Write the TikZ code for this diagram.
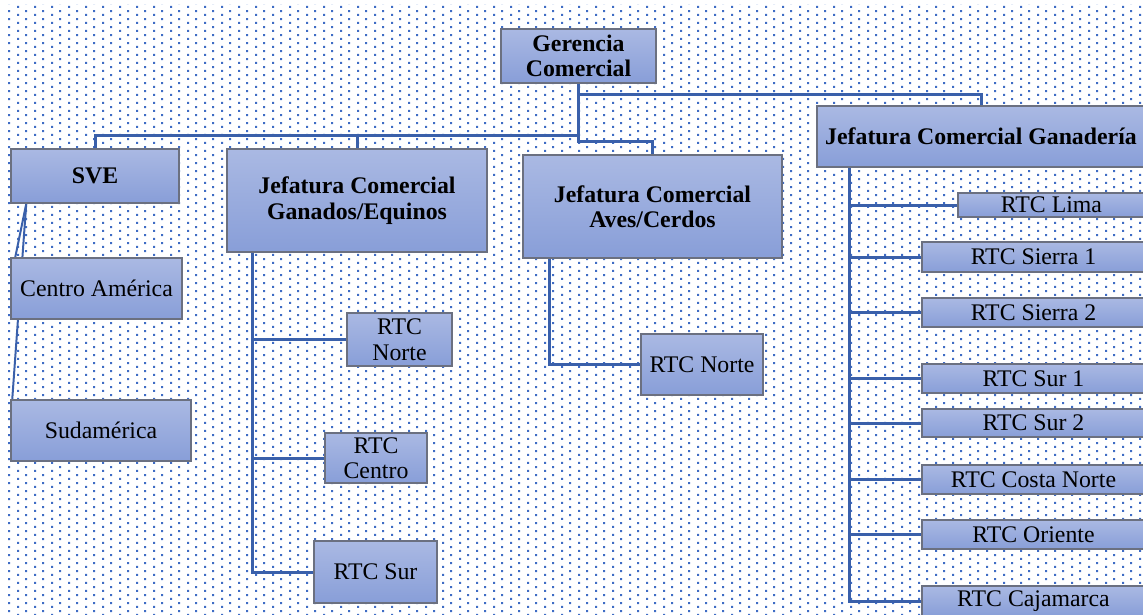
\documentclass[tikz,border=0pt]{standalone}
\usepackage{fontspec}
\setmainfont{Liberation Serif}
\usetikzlibrary{calc,patterns,backgrounds}
\definecolor{OrgLine}{HTML}{3A60AA}
\definecolor{OrgEdge}{HTML}{6B7080}
\definecolor{OrgTop}{HTML}{AAB9E3}
\definecolor{OrgBottom}{HTML}{889ED8}
\definecolor{OrgDot}{HTML}{3F6CC4}
\pgfdeclarepatternformonly{orgdots}{\pgfqpoint{0pt}{0pt}}{\pgfqpoint{17pt}{8.33pt}}{\pgfqpoint{17pt}{8.33pt}}{%
  \pgfpathrectangle{\pgfqpoint{0pt}{0pt}}{\pgfqpoint{2.2pt}{2.2pt}}%
  \pgfpathrectangle{\pgfqpoint{8.5pt}{4.17pt}}{\pgfqpoint{2.2pt}{2.2pt}}%
  \pgfusepath{fill}}

\begin{document}
\begin{tikzpicture}[
    x=1pt,
    y=-1pt,
    box/.style={
      draw=OrgEdge,
      line width=1.5pt,
      top color=OrgTop,
      bottom color=OrgBottom,
      inner sep=0pt,
      align=center,
      font=\fontsize{23.8}{25.5}\selectfont
    },
    head/.style={
      box,
      font=\fontsize{23.8}{25.5}\selectfont\bfseries
    },
    link/.style={
      draw=OrgLine,
      line width=3pt
    }
  ]
  \useasboundingbox (0,0) rectangle (1143,615);

  % Gerencia
  \node[head, minimum width=155pt, minimum height=54pt] (gerencia) at (578.5,56)
    {Gerencia\\Comercial};

  % SVE
  \node[head, minimum width=168pt, minimum height=54pt] (sve) at (95,176) {SVE};
  \node[box, minimum width=171pt, minimum height=61pt] (centro) at (96.5,288.5)
    {Centro América};
  \node[box, minimum width=180pt, minimum height=61pt] (sudam) at (101,430.5)
    {Sudamérica};

  % Ganados/Equinos
  \node[head, minimum width=260pt, minimum height=103pt] (ganados) at (357,200.5)
    {Jefatura Comercial\\Ganados/Equinos};
  \node[box, minimum width=105pt, minimum height=53pt] (gnorte) at (399.5,339.5)
    {RTC\\Norte};
  \node[box, minimum width=102pt, minimum height=50pt] (gcentro) at (376,458)
    {RTC\\Centro};
  \node[box, minimum width=123pt, minimum height=62pt] (gsur) at (375.5,572)
    {RTC Sur};

  % Aves/Cerdos
  \node[head, minimum width=259pt, minimum height=103pt] (aves) at (652.5,206.5)
    {Jefatura Comercial\\Aves/Cerdos};
  \node[box, minimum width=122pt, minimum height=61pt] (anorte) at (702,364.5)
    {RTC Norte};

  % Ganaderia
  \node[head, minimum width=328pt, minimum height=61pt] (ganaderia) at (981,136.5)
    {Jefatura Comercial Ganadería};
  \node[box, minimum width=187pt, minimum height=24pt] (lima) at (1051.5,205)
    {RTC Lima};
  \node[box, minimum width=223pt, minimum height=30pt] (sierra1) at (1033.5,257)
    {RTC Sierra 1};
  \node[box, minimum width=223pt, minimum height=29pt] (sierra2) at (1033.5,312.5)
    {RTC Sierra 2};
  \node[box, minimum width=223pt, minimum height=29pt] (sur1) at (1033.5,378.5)
    {RTC Sur 1};
  \node[box, minimum width=223pt, minimum height=28pt] (sur2) at (1033.5,423)
    {RTC Sur 2};
  \node[box, minimum width=223pt, minimum height=29pt] (costa) at (1033.5,479.5)
    {RTC Costa Norte};
  \node[box, minimum width=223pt, minimum height=29pt] (oriente) at (1033.5,534.5)
    {RTC Oriente};
  \node[box, minimum width=223pt, minimum height=30pt] (cajamarca) at (1033.5,601)
    {RTC Cajamarca};

  \begin{scope}[on background layer]
    % Dotted page
    \fill[pattern=orgdots, pattern color=OrgDot] (8,5) rectangle (1143,615);

    % Top level
    \coordinate (bus) at ($(gerencia.south)+(0,52)$);
    \draw[link] (gerencia.south) -- ++(0,11) -| (ganaderia.north);
    \draw[link] (gerencia.south) -- ++(0,58) -| (aves.north);
    \draw[link] (sve.north) |- (bus);
    \draw[link] (ganados.north) |- (bus);

    % SVE
    \coordinate (svefoot) at ($(sve.south west)+(16,0)$);
    \draw[link, line width=2pt] (svefoot) -- ($(centro.north west)+(5,0)$);
    \draw[link, line width=2pt] (svefoot) -- ($(sudam.north west)+(2,0)$);

    % Ganados/Equinos
    \coordinate (gstem) at ($(ganados.south west)+(26,0)$);
    \draw[link] (gstem) |- (gnorte.west);
    \draw[link] (gstem) |- (gcentro.west);
    \draw[link] (gstem) |- (gsur.west);

    % Aves/Cerdos
    \coordinate (astem) at ($(aves.south west)+(27,0)$);
    \draw[link] (astem) |- (anorte.west);

    % Ganaderia
    \coordinate (rstem) at ($(ganaderia.south west)+(33,0)$);
    \draw[link] (rstem) |- (lima.west);
    \draw[link] (rstem) |- (sierra1.west);
    \draw[link] (rstem) |- (sierra2.west);
    \draw[link] (rstem) |- (sur1.west);
    \draw[link] (rstem) |- (sur2.west);
    \draw[link] (rstem) |- (costa.west);
    \draw[link] (rstem) |- (oriente.west);
    \draw[link] (rstem) |- (cajamarca.west);
  \end{scope}
\end{tikzpicture}
\end{document}
